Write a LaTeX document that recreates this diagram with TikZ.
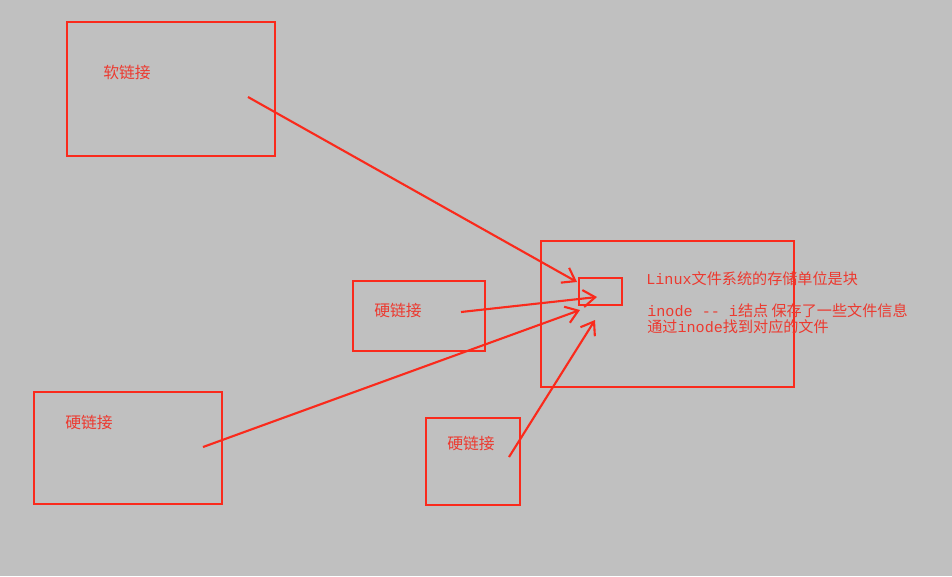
\documentclass[tikz,border=0pt]{standalone}
\usepackage{fontspec}
\usepackage{xcolor}
\usetikzlibrary{positioning, arrows.meta}
\newfontfamily\cjk{Noto Sans CJK SC}
\newfontfamily\mono{Liberation Mono}
\definecolor{screen}{RGB}{192,192,192}
\definecolor{pen}{RGB}{250,42,28}
\definecolor{ink}{RGB}{236,58,48}

\begin{document}
\begin{tikzpicture}[x=0.02cm, y=-0.02cm, >={Straight Barb[length=2.4mm,width=3.4mm]},
  box/.style={draw=pen, line width=1.4pt, inner sep=0pt},
  lbl/.style={text=ink, anchor=west, inner sep=0pt, font=\cjk\fontsize{9}{11}\selectfont},
  info/.style={text=ink, anchor=west, inner sep=0pt, font=\fontsize{8.6}{10}\selectfont},
  link/.style={pen, line width=1.2pt, ->}]
  \fill[screen] (0,0) rectangle (952,576);
  \useasboundingbox (0,0) rectangle (952,576);

  % boxes
  \node[box, minimum width=4.16cm, minimum height=2.68cm] (soft)  at (171,89)    {};
  \node[box, minimum width=2.64cm, minimum height=1.40cm] (hardA) at (419,316)   {};
  \node[box, minimum width=3.76cm, minimum height=2.24cm] (hardB) at (128,448)   {};
  \node[box, minimum width=1.88cm, minimum height=1.74cm] (hardC) at (473,461.5) {};
  \node[box, minimum width=5.06cm, minimum height=2.92cm] (disk)  at (667.5,314) {};
  \node[box, minimum width=0.86cm, minimum height=0.54cm] (inode) at (600.5,291.5) {};

  % labels
  \node[lbl] (softtxt)  at (103,72)  {软链接};
  \node[lbl] (hardAtxt) at (374,310) {硬链接};
  \node[lbl] (hardBtxt) at (65,422)  {硬链接};
  \node[lbl] (hardCtxt) at (447,443) {硬链接};
  \node[info] (block) at (646,279) {{\mono Linux}{\cjk 文件系统的存储单位是块}};
  \node[info] (idesc) at (647,311) {{\mono inode -- i}{\cjk 结点 保存了一些文件信息}};
  \node[info] (ifind) at (647,327) {{\cjk 通过}{\mono inode}{\cjk 找到对应的文件}};

  % link ends
  \coordinate (s0) at (248,97);  \coordinate (s1) at (577,282);
  \coordinate (a0) at (461,312); \coordinate (a1) at (597,297);
  \coordinate (b0) at (203,447); \coordinate (b1) at (580,310);
  \coordinate (c0) at (509,457); \coordinate (c1) at (595,320);
  \draw[link] (s0) -- (s1);
  \draw[link] (a0) -- (a1);
  \draw[link] (b0) -- (b1);
  \draw[link] (c0) -- (c1);
\end{tikzpicture}
\end{document}
